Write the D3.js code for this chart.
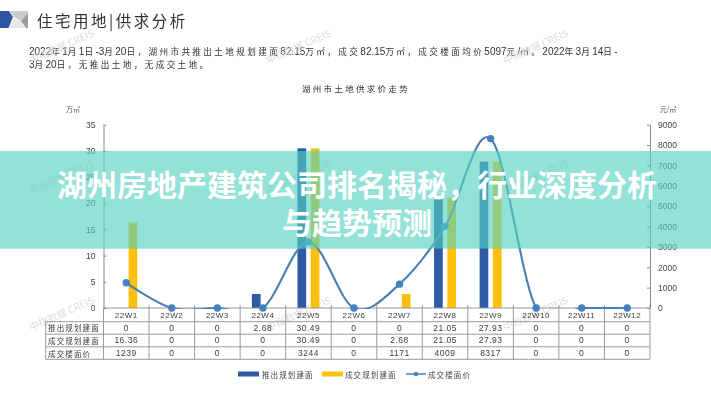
<!DOCTYPE html>
<html><head><meta charset="utf-8">
<script src="https://cdn.jsdelivr.net/npm/d3@7"></script>
<style>html,body{margin:0;padding:0;background:#fff}svg{display:block}text{font-family:"Noto Sans CJK SC","Liberation Sans",sans-serif}</style>
</head><body><div id="c"></div>
<script>
const weeks=["22W1","22W2","22W3","22W4","22W5","22W6","22W7","22W8","22W9","22W10","22W11","22W12"];
const supply=[0,0,0,2.68,30.49,0,0,21.05,27.93,0,0,0];
const deal=[16.36,0,0,0,30.49,0,2.68,21.05,27.93,0,0,0];
const price=[1239,0,0,0,3244,0,1171,4009,8317,0,0,0];
const rowNames=["推出规划建面","成交规划建面","成交楼面价"];
const leftTicks=[0,5,10,15,20,25,30,35];
const rightTicks=[0,1000,2000,3000,4000,5000,6000,7000,8000,9000];
const watermarkXs=[63,300,537];
const watermarkYs=[50,180,317];
const legendNames=["推出规划建面","成交规划建面","成交楼面价"];
const pageTitle="住宅用地|供求分析";
const bodyLines=["2022年1月1日-3月20日，湖州市共推出土地规划建面82.15万㎡，成交82.15万㎡，成交楼面均价5097元/㎡。2022年3月14日-","3月20日，无推出土地，无成交土地。"];
const chartTitle="湖州市土地供求价走势";
const headline=["湖州房地产建筑公司排名揭秘，行业深度分析","与趋势预测"];

const W=711,H=400,L=103.5,R=650,T=124.7,B=308;
const svg=d3.select("#c").append("svg").attr("width",W).attr("height",H);
const defs=svg.append("defs");
defs.append("filter").attr("id","soft").attr("x",0).attr("y",0).attr("width",1).attr("height",1).attr("filterUnits","objectBoundingBox")
  .append("feGaussianBlur").attr("stdDeviation",.35);
defs.append("clipPath").attr("id","lineClip").append("rect").attr("x",0).attr("y",0).attr("width",W).attr("height",B+1);
const base=svg.append("g").attr("filter","url(#soft)");
base.append("rect").attr("width",W).attr("height",H).attr("fill","#fff");
const x=d3.scaleBand().domain(weeks).range([L,R]);
const yL=d3.scaleLinear().domain([0,35]).range([B,T]);
const yR=d3.scaleLinear().domain([0,9000]).range([B,T]);
const latin="'Liberation Sans',sans-serif";

// page header
const logo=base.append("g");
logo.append("path").attr("d","M0 11H9L13 17L8.5 28H0Z").attr("fill","#2f55a4");
logo.append("path").attr("d","M10 11H28V13L21 21L14 17Z").attr("fill","#c9cacc");
logo.append("path").attr("d","M9.5 28L14 18L21 22L25 28Z").attr("fill","#e6e7e9");
logo.append("path").attr("d","M28 13V28H26L21 21Z").attr("fill","#9a9c9e");
base.append("text").attr("x",37).attr("y",27).attr("font-size",15.5).attr("letter-spacing",2.5).attr("fill","#333").text(pageTitle);
bodyLines.forEach((t,i)=>{
  const el=base.append("text").attr("x",29).attr("y",55+i*13.3).attr("font-size",9).attr("fill","#333");
  t.match(/[0-9.\-\/]+|[^0-9.\-\/]+/g).forEach(run=>{
    const isNum=/^[0-9.\-\/]/.test(run);
    el.append("tspan").attr("font-size",isNum?10:8.6).attr("letter-spacing",isNum?0:2.4).style("font-family",isNum?latin:null).text(run);
  });
});
base.append("text").attr("x",356).attr("y",92).attr("text-anchor","middle").attr("font-size",8.5).attr("letter-spacing",2.3).attr("fill","#333").text(chartTitle);
base.append("text").attr("x",73).attr("y",112).attr("text-anchor","middle").attr("font-size",7).attr("fill","#555").text("万㎡");
base.append("text").attr("x",668).attr("y",112).attr("text-anchor","middle").attr("font-size",7).attr("fill","#555").text("元/㎡");

// watermarks
watermarkYs.forEach(wy=>watermarkXs.forEach(wx=>{
  base.append("text").attr("transform",`translate(${wx},${wy}) rotate(-24)`).attr("text-anchor","middle").attr("font-size",10).attr("fill","#dcdcdc").text("中指数据 CREIS");
}));

// axes
const axL=base.append("g").attr("transform",`translate(${L},0)`).call(d3.axisLeft(yL).tickValues(leftTicks).tickSizeInner(-3).tickSizeOuter(0).tickPadding(8));
const axR=base.append("g").attr("transform",`translate(${R},0)`).call(d3.axisRight(yR).tickValues(rightTicks).tickFormat(d3.format("d")).tickSizeInner(-3).tickSizeOuter(0).tickPadding(8));
[axL,axR].forEach(a=>{a.selectAll("path,line").attr("stroke","#8a8a8a");a.selectAll("text").attr("font-size",8.5).attr("fill","#444").style("font-family",latin);});

// bars
const bw=8.7,gap=4.6;
base.append("g").selectAll("rect").data(weeks).join("rect")
 .attr("x",d=>x(d)+x.bandwidth()/2-gap/2-bw).attr("width",bw)
 .attr("y",(d,i)=>yL(supply[i])).attr("height",(d,i)=>B-yL(supply[i])).attr("fill","#2f5aa6");
base.append("g").selectAll("rect").data(weeks).join("rect")
 .attr("x",d=>x(d)+x.bandwidth()/2+gap/2).attr("width",bw)
 .attr("y",(d,i)=>yL(deal[i])).attr("height",(d,i)=>B-yL(deal[i])).attr("fill","#fdc010");

// table
const rowY=[308,321.7,334.2,346.8,359.3];
const tbl=base.append("g").attr("stroke","#8f8f8f").attr("stroke-width",.9).attr("fill","none");
const hLine=(x1,x2,y)=>tbl.append("line").attr("x1",x1).attr("x2",x2).attr("y1",y).attr("y2",y);
const vLine=(xv,y1,y2)=>tbl.append("line").attr("x1",xv).attr("x2",xv).attr("y1",y1).attr("y2",y2);
hLine(L,R,rowY[0]);
rowY.slice(1).forEach(y=>hLine(45.7,R,y));
vLine(45.7,rowY[1],rowY[4]);
vLine(L,rowY[0],rowY[4]);
weeks.forEach(w=>vLine(x(w)+x.bandwidth(),rowY[0]-3,rowY[4]));
const cell=(t,xv,y,size)=>base.append("text").attr("x",xv).attr("y",y).attr("text-anchor","middle").attr("dominant-baseline","central").attr("font-size",size).attr("letter-spacing",.5).attr("fill","#3a3a3a").style("font-family",latin).text(t);
weeks.forEach((w,i)=>{
  const cx=x(w)+x.bandwidth()/2;
  cell(w,cx,315,8);
  cell(supply[i],cx,327.6,8.5);
  cell(deal[i],cx,340.2,8.5);
  cell(price[i],cx,353,8.5);
});
rowNames.forEach((n,i)=>base.append("text").attr("x",48).attr("y",[327.6,340.2,353][i]).attr("dominant-baseline","central").attr("font-size",7.5).attr("letter-spacing",1.15).attr("fill","#3a3a3a").text(n));

// line
const lineC="#4c7fb0";
const line=d3.line().x((d,i)=>x(weeks[i])+x.bandwidth()/2).y(d=>yR(d)).curve(d3.curveCatmullRom.alpha(0));
base.append("path").datum(price).attr("d",line).attr("fill","none").attr("stroke",lineC).attr("stroke-width",2.1).attr("clip-path","url(#lineClip)");
base.append("g").selectAll("circle").data(price).join("circle")
 .attr("cx",(d,i)=>x(weeks[i])+x.bandwidth()/2).attr("cy",d=>yR(d)).attr("r",3.7).attr("fill","#4480c0");

// legend
const ly=374;
const legendText=(t,lx)=>base.append("text").attr("x",lx).attr("y",ly).attr("dominant-baseline","central").attr("font-size",7.5).attr("letter-spacing",1.1).attr("fill","#444").text(t);
base.append("rect").attr("x",238).attr("y",ly-2.5).attr("width",21).attr("height",5).attr("fill","#2f5aa6");
legendText(legendNames[0],262);
base.append("rect").attr("x",322).attr("y",ly-2.5).attr("width",21).attr("height",5).attr("fill","#fdc010");
legendText(legendNames[1],345);
base.append("line").attr("x1",406).attr("x2",426).attr("y1",ly).attr("y2",ly).attr("stroke",lineC).attr("stroke-width",1.5);
base.append("circle").attr("cx",416).attr("cy",ly).attr("r",2.2).attr("fill","#4480c0");
legendText(legendNames[2],428);

// headline band
svg.append("rect").attr("x",0).attr("y",151).attr("width",W).attr("height",97.7).attr("fill","#54d1c1").attr("fill-opacity",.63);
headline.forEach((t,i)=>svg.append("text").attr("x",357).attr("y",[183,221][i]).attr("text-anchor","middle").attr("dominant-baseline","central").attr("font-size",30).attr("font-weight",700).attr("fill","#fff").text(t));
</script></body></html>
